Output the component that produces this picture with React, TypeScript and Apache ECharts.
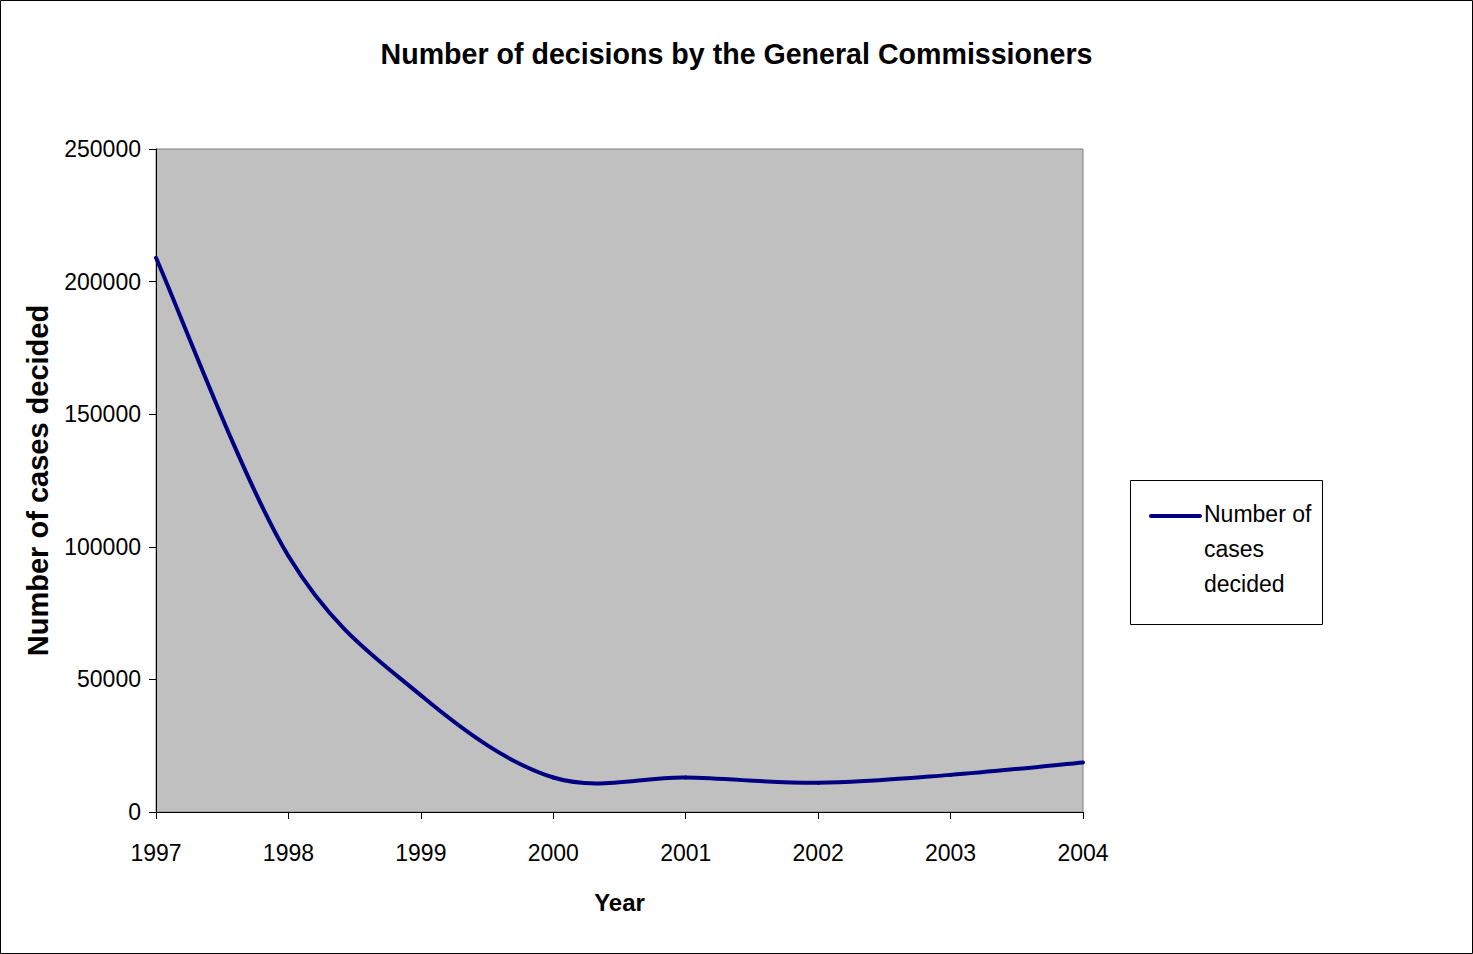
import React, { useEffect, useRef } from "react";
import * as echarts from "echarts";

const years = ["1997", "1998", "1999", "2000", "2001", "2002", "2003", "2004"];
const casesDecided = [209000, 96500, 44000, 13000, 13000, 11000, 14000, 18700];
const yMin = 0;
const yMax = 250000;
const yStep = 50000;
const titleText = "Number of decisions by the General Commissioners";
const seriesName = "Number of cases decided";
const legendLines = ["Number of", "cases", "decided"];

const FONT = "'Liberation Sans', Arial, sans-serif";
const LINE_COLOR = "#000080";

// Excel-like smoothed line: Catmull-Rom segments between consecutive points,
// positioned through the chart's own axes (api.coord).
function renderSegment(params: any, api: any) {
  const i = params.dataIndex;
  const n = casesDecided.length;
  if (i >= n - 1) return null;
  const pt = (k: number) => {
    const kk = Math.max(0, Math.min(n - 1, k));
    return api.coord([kk, casesDecided[kk]]);
  };
  const p0 = pt(i - 1);
  const p1 = pt(i);
  const p2 = pt(i + 1);
  const p3 = pt(i + 2);
  const t = 1 / 6;
  return {
    type: "bezierCurve",
    shape: {
      x1: p1[0],
      y1: p1[1],
      cpx1: p1[0] + (p2[0] - p0[0]) * t,
      cpy1: p1[1] + (p2[1] - p0[1]) * t,
      cpx2: p2[0] - (p3[0] - p1[0]) * t,
      cpy2: p2[1] - (p3[1] - p1[1]) * t,
      x2: p2[0],
      y2: p2[1],
    },
    style: { stroke: LINE_COLOR, lineWidth: 4, fill: "none", lineCap: "round" },
  };
}

export default function App() {
  const ref = useRef<HTMLDivElement>(null);
  useEffect(() => {
    if (!ref.current) return;
    const chart = echarts.init(ref.current, undefined, { renderer: "svg" });
    chart.setOption({
      animation: false,
      backgroundColor: "#ffffff",
      title: {
        text: titleText,
        left: "center",
        top: 34,
        textStyle: { fontSize: 28.6, fontWeight: "bold", fontFamily: FONT, color: "#000" },
      },
      grid: {
        left: 156,
        right: 390,
        top: 149,
        bottom: 142,
        show: true,
        backgroundColor: "#c0c0c0",
        borderColor: "#808080",
        borderWidth: 1,
        containLabel: false,
      },
      xAxis: {
        type: "category",
        data: years,
        boundaryGap: false,
        name: "Year",
        nameLocation: "middle",
        nameGap: 78,
        nameTextStyle: { fontSize: 24, fontWeight: "bold", fontFamily: FONT, color: "#000" },
        axisLine: { show: true, lineStyle: { color: "#000", width: 1 } },
        axisTick: { show: true, inside: false, length: 7, lineStyle: { color: "#000" } },
        axisLabel: { fontSize: 23, fontFamily: FONT, color: "#000", margin: 29 },
        splitLine: { show: false },
      },
      yAxis: {
        type: "value",
        min: yMin,
        max: yMax,
        interval: yStep,
        name: seriesName,
        nameLocation: "middle",
        nameGap: 104,
        nameTextStyle: { fontSize: 29, fontWeight: "bold", fontFamily: FONT, color: "#000" },
        axisLine: { show: true, lineStyle: { color: "#000", width: 1 } },
        axisTick: { show: true, inside: false, length: 7, lineStyle: { color: "#000" } },
        axisLabel: {
          fontSize: 23,
          fontFamily: FONT,
          color: "#000",
          margin: 15,
          formatter: (v: number) => String(v),
        },
        splitLine: { show: false },
      },
      series: [
        {
          name: seriesName,
          type: "custom",
          coordinateSystem: "cartesian2d",
          data: casesDecided.map((v, i) => [i, v]),
          encode: { x: 0, y: 1 },
          renderItem: renderSegment,
          clip: false,
          z: 3,
          silent: true,
        },
      ],
      graphic: [
        {
          type: "rect",
          shape: { x: 0.5, y: 0.5, width: 1472, height: 953 },
          style: { fill: "none", stroke: "#000", lineWidth: 1 },
          silent: true,
        },
        {
          type: "rect",
          shape: { x: 1130.5, y: 480.5, width: 192, height: 144 },
          style: { fill: "#ffffff", stroke: "#000", lineWidth: 1 },
          silent: true,
        },
        {
          type: "line",
          shape: { x1: 1151, y1: 516, x2: 1200, y2: 516 },
          style: { stroke: LINE_COLOR, lineWidth: 4, lineCap: "round" },
          silent: true,
        },
        {
          type: "text",
          x: 1204,
          y: 496.5,
          style: {
            text: legendLines.join("\n"),
            fontSize: 23,
            fontFamily: FONT,
            fill: "#000",
            lineHeight: 35,
            verticalAlign: "top",
            align: "left",
          },
          silent: true,
        },
      ],
    });
    return () => chart.dispose();
  }, []);
  return (
    <div
      ref={ref}
      style={{ position: "absolute", left: 0, top: 0, width: 1473, height: 954 }}
    />
  );
}
